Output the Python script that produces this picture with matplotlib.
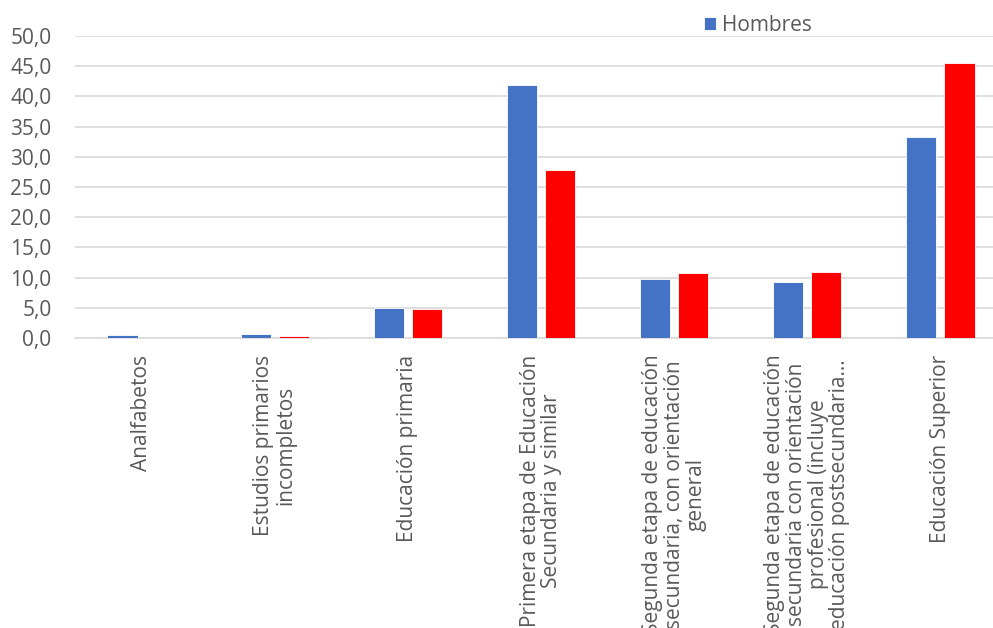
import matplotlib.pyplot as plt
import numpy as np

categorias = [
    'Analfabetos',
    'Estudios primarios\nincompletos',
    'Educación primaria',
    'Primera etapa de Educación\nSecundaria y similar',
    'Segunda etapa de educación\nsecundaria, con orientación\ngeneral',
    'Segunda etapa de educación\nsecundaria con orientación\nprofesional (incluye\neducación postsecundaria...',
    'Educación Superior',
]
hombres = [0.5, 0.7, 4.9, 41.9, 9.7, 9.2, 33.2]
mujeres = [0.0, 0.4, 4.8, 27.8, 10.7, 10.9, 45.5]
yticks = np.arange(0, 50.1, 5)

GRIS = '#595959'
plt.rcParams['font.family'] = ['Open Sans', 'DejaVu Sans']

fig = plt.figure(figsize=(9.93, 6.28), dpi=100)
# el area de trazado se sale un poco por la derecha, como en el original
ax = fig.add_axes([75 / 993, 1 - 338 / 628, 932 / 993, 302 / 628])

x = np.arange(len(categorias))
w = 0.226
ax.bar(x - 0.143, hombres, w, color='#4472c4', edgecolor='white', linewidth=0.6,
       label='Hombres', zorder=3)
ax.bar(x + 0.143, mujeres, w, color='#ff0000', edgecolor='white', linewidth=0.6,
       zorder=3)

ax.set_xlim(-0.5, len(categorias) - 0.5)
ax.set_ylim(0, 50)
ax.set_yticks(yticks)
ax.set_yticklabels([f'{v:.1f}'.replace('.', ',') for v in yticks])
ax.yaxis.grid(True, color='#d9d9d9', linewidth=1.2, zorder=0)
for s in ['top', 'right', 'left']:
    ax.spines[s].set_visible(False)
ax.spines['bottom'].set_color('#d9d9d9')
ax.spines['bottom'].set_linewidth(1.2)
ax.tick_params(axis='both', length=0, colors=GRIS, labelsize=15)
ax.tick_params(axis='y', pad=17)

ax.set_xticks(x)
ax.set_xticklabels(categorias, rotation=90, va='top', ha='center',
                   multialignment='center', fontsize=15, color=GRIS,
                   linespacing=1.05)
ax.tick_params(axis='x', pad=12)

ax.legend(loc='upper left', bbox_to_anchor=(689 / 993, 1.0), bbox_transform=fig.transFigure,
          frameon=False, fontsize=15, labelcolor=GRIS, handlelength=0.6,
          handleheight=0.6, handletextpad=0.3, borderaxespad=0.3)

fig.savefig('out.png', dpi=100)
